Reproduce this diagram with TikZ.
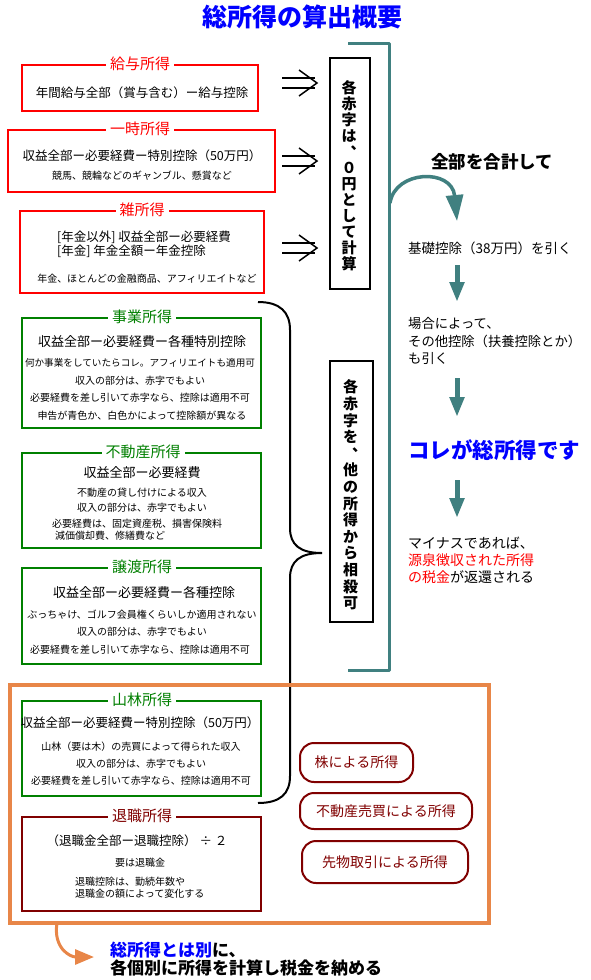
\documentclass[tikz,border=0pt]{standalone}
\usepackage{fontspec}
\setmainfont{Noto Sans CJK JP}
\usetikzlibrary{arrows.meta}
\definecolor{kred}{RGB}{255,0,0}
\definecolor{kgreen}{RGB}{0,128,0}
\definecolor{kdred}{RGB}{128,0,0}
\definecolor{kteal}{RGB}{64,128,128}
\definecolor{korange}{RGB}{232,134,72}
\definecolor{kblue}{RGB}{0,0,255}
\newcommand\fsz[2]{\fontsize{#1}{#2}\selectfont}
\newcommand\vcomma{\makebox[1em][l]{\hspace{0.6em}\raisebox{0.55em}[0pt][0pt]{、}}}
\begin{document}
\begin{tikzpicture}[x=1pt,y=-1pt,
  kbox/.style={draw, line width=2pt, inner sep=0pt, anchor=north west},
  lbl/.style={fill=white, inner xsep=4pt, inner ysep=1pt, font=\fsz{15}{15}},
  maintxt/.style={inner sep=0pt, font=\fsz{12.5}{14}},
  smalltxt/.style={inner sep=0pt, font=\fsz{10}{12}},
  vtxt/.style={inner sep=0pt, align=center},
  pill/.style={draw=kdred, line width=2pt, rounded corners=14pt, text=kdred, font=\fsz{14}{14}, inner sep=0pt},
  darrow/.style={kteal, line width=5pt, -{Triangle[length=20pt,width=14pt]}},
  dblarrow/.pic={
    \draw[line width=1.5pt] (-18,-5) -- (15,-5) (-18,5) -- (15,5);
    \draw[line width=1.5pt, line join=miter] (-1,-13) -- (17,0) -- (-1,13);
  }
]
\useasboundingbox (0,0) rectangle (590,980);

% title
\node[font=\fsz{25}{25}\bfseries, text=kblue, inner sep=0pt] (title) at (302,17) {総所得の算出概要};

% red boxes
\node[kbox, draw=kred, minimum width=236pt, minimum height=46pt] (kyuyo) at (21,64) {};
\node[lbl, text=kred] (kyuyoL) at (140,64) {給与所得};
\node[maintxt] (kyuyo1) at (142,93) {年間給与全部（賞与含む）ー給与控除};

\node[kbox, draw=kred, minimum width=267pt, minimum height=62pt] (ichiji) at (7,129) {};
\node[lbl, text=kred] (ichijiL) at (140,129) {一時所得};
\node[maintxt] (ichiji1) at (142,156) {収益全部ー必要経費ー特別控除（50万円）};
\node[smalltxt] (ichiji2) at (142,176) {競馬、競輪などのギャンブル、懸賞など};

\node[kbox, draw=kred, minimum width=244pt, minimum height=82pt] (zatsu) at (19,210) {};
\node[lbl, text=kred] (zatsuL) at (142,210) {雑所得};
\node[maintxt, anchor=west] (zatsu1) at (57,237) {[年金以外] 収益全部ー必要経費};
\node[maintxt, anchor=west] (zatsu2) at (57,251) {[年金] 年金全額ー年金控除};
\node[smalltxt] (zatsu3) at (147,279) {年金、ほとんどの金融商品、アフィリエイトなど};

% green boxes
\node[kbox, draw=kgreen, minimum width=239pt, minimum height=110pt] (jigyo) at (21,317) {};
\node[lbl, text=kgreen] (jigyoL) at (142,317) {事業所得};
\node[maintxt, font=\fsz{13}{14}] (jigyo1) at (142,342) {収益全部ー必要経費ー各種特別控除};
\node[smalltxt, font=\fsz{9.6}{12}] (jigyo2) at (140,363) {何か事業をしていたらコレ。アフィリエイトも適用可};
\node[smalltxt] (jigyo3) at (140,381) {収入の部分は、赤字でもよい};
\node[smalltxt] (jigyo4) at (140,398) {必要経費を差し引いて赤字なら、控除は適用不可};
\node[smalltxt] (jigyo5) at (142,416) {申告が青色か、白色かによって控除額が異なる};

\node[kbox, draw=kgreen, minimum width=239pt, minimum height=95pt] (fudosan) at (21,452) {};
\node[lbl, text=kgreen] (fudosanL) at (143,452) {不動産所得};
\node[maintxt, font=\fsz{13}{14}] (fudosan1) at (142,473) {収益全部ー必要経費};
\node[smalltxt] (fudosan2) at (142,493) {不動産の貸し付けによる収入};
\node[smalltxt] (fudosan3) at (142,508) {収入の部分は、赤字でもよい};
\node[smalltxt, anchor=west] (fudosan4) at (52,524) {必要経費は、固定資産税、損害保険料};
\node[smalltxt, anchor=west] (fudosan5) at (55,536) {減価償却費、修繕費など};

\node[kbox, draw=kgreen, minimum width=239pt, minimum height=96pt] (joto) at (21,567) {};
\node[lbl, text=kgreen] (jotoL) at (142,567) {譲渡所得};
\node[maintxt, font=\fsz{13}{14}] (joto1) at (144,593) {収益全部ー必要経費ー各種控除};
\node[smalltxt] (joto2) at (142,615) {ぶっちゃけ、ゴルフ会員権くらいしか適用されない};
\node[smalltxt] (joto3) at (142,632) {収入の部分は、赤字でもよい};
\node[smalltxt] (joto4) at (140,650) {必要経費を差し引いて赤字なら、控除は適用不可};

% brace
\coordinate (brA) at (258,302);
\coordinate (brTip) at (322,553);
\coordinate (brB) at (258,803);
\draw[line width=2pt] (brA) .. controls (280,302) and (290,312) .. (290,330) -- (290,528)
  .. controls (290,545) and (300,553) .. (brTip)
  .. controls (300,553) and (290,561) .. (290,578) -- (290,776)
  .. controls (290,794) and (280,803) .. (brB);

% orange box
\node[draw=korange, line width=4pt, inner sep=0pt, minimum width=479pt, minimum height=238pt, anchor=north west] (sep) at (8,683) {};

\node[kbox, draw=kgreen, minimum width=239pt, minimum height=95pt] (sanrin) at (21,700) {};
\node[lbl, text=kgreen] (sanrinL) at (142,700) {山林所得};
\node[maintxt] (sanrin1) at (140,723) {収益全部ー必要経費ー特別控除（50万円）};
\node[smalltxt] (sanrin2) at (141,747) {山林（要は木）の売買によって得られた収入};
\node[smalltxt] (sanrin3) at (141,764) {収入の部分は、赤字でもよい};
\node[smalltxt] (sanrin4) at (141,781) {必要経費を差し引いて赤字なら、控除は適用不可};

\node[kbox, draw=kdred, minimum width=239pt, minimum height=94pt] (taishoku) at (21,816) {};
\node[lbl, text=kdred] (taishokuL) at (142,816) {退職所得};
\node[maintxt] (taishoku1) at (137,841) {（退職金全部ー退職控除） ÷ ２};
\node[smalltxt] (taishoku2) at (140,863) {要は退職金};
\node[smalltxt, anchor=west, align=left, font=\fsz{10}{12}] (taishoku3) at (75,888) {退職控除は、勤続年数や\\退職金の額によって変化する};

% pills
\node[pill, minimum width=113pt, minimum height=39pt] (kabu) at (356.5,762.5) {株による所得};
\node[pill, minimum width=172pt, minimum height=36pt] (fudobai) at (386,811) {不動産売買による所得};
\node[pill, minimum width=166pt, minimum height=42pt] (saki) at (385,862) {先物取引による所得};

% vertical boxes
\node[kbox, draw=black, minimum width=40pt, minimum height=231pt] (zero) at (329,57) {};
\node[vtxt, font=\fsz{15}{16}\bfseries] (zeroT) at (349,176) {各\\赤\\字\\は\\\vcomma\\０\\円\\と\\し\\て\\計\\算};
\node[kbox, draw=black, minimum width=43pt, minimum height=261pt] (sousai) at (329,360) {};
\node[vtxt, font=\fsz{15}{16.6}\bfseries] (sousaiT) at (350.5,495) {各\\赤\\字\\を\\\vcomma\\他\\の\\所\\得\\か\\ら\\相\\殺\\可};

% double arrows
\pic at (300,83) {dblarrow};
\pic at (300,161) {dblarrow};
\pic at (300,248) {dblarrow};

% teal bracket
\coordinate (tbA) at (348,43);
\coordinate (tbB) at (389,43);
\coordinate (tbC) at (389,670);
\coordinate (tbD) at (348,670);
\draw[kteal, line width=3pt, line join=round] (tbA) -- (tbB) -- (tbC) -- (tbD);

% right column
\coordinate (curveS) at (390,203);
\coordinate (curveE) at (457,221);
\draw[kteal, line width=3.5pt, -{Triangle[length=26pt,width=17pt]}] (curveS) .. controls (395,170) and (452,168) .. (curveE);
\node[font=\fsz{17.5}{17.5}\bfseries, inner sep=0pt] (goukei) at (492,162) {全部を合計して};
\node[anchor=west, inner sep=0pt, font=\fsz{13.5}{15}] (kiso) at (408,248) {基礎控除（38万円）を引く};
\coordinate (d1a) at (457,265); \coordinate (d1b) at (457,302);
\draw[darrow] (d1a) -- (d1b);
\node[anchor=west, align=left, inner sep=0pt, font=\fsz{13.3}{17.5}] (other) at (408,341) {場合によって、\\その他控除（扶養控除とか）\\も引く};
\coordinate (d2a) at (457,378); \coordinate (d2b) at (457,417);
\draw[darrow] (d2a) -- (d2b);
\node[anchor=west, inner sep=0pt, font=\fsz{21.5}{22}\bfseries, text=kblue] (kore) at (408,450) {コレが総所得です};
\coordinate (d3a) at (457,480); \coordinate (d3b) at (457,518);
\draw[darrow] (d3a) -- (d3b);
\node[anchor=west, align=left, inner sep=0pt, font=\fsz{14}{17}] (minus) at (408,560) {マイナスであれば、\\{\color{kred}源泉徴収された所得}\\{\color{kred}の税金}が返還される};

% bottom
\coordinate (oS) at (57,923);
\coordinate (oE) at (94,957);
\draw[korange, line width=3pt, -{Triangle[length=19pt,width=15pt]}] (oS) .. controls (53,948) and (70,957) .. (oE);
\node[anchor=west, align=left, inner sep=0pt, font=\fsz{17}{18}\bfseries] (bottomT) at (110,959) {{\color{kblue}総所得とは別}に、\\各個別に所得を計算し税金を納める};
\end{tikzpicture}
\end{document}
